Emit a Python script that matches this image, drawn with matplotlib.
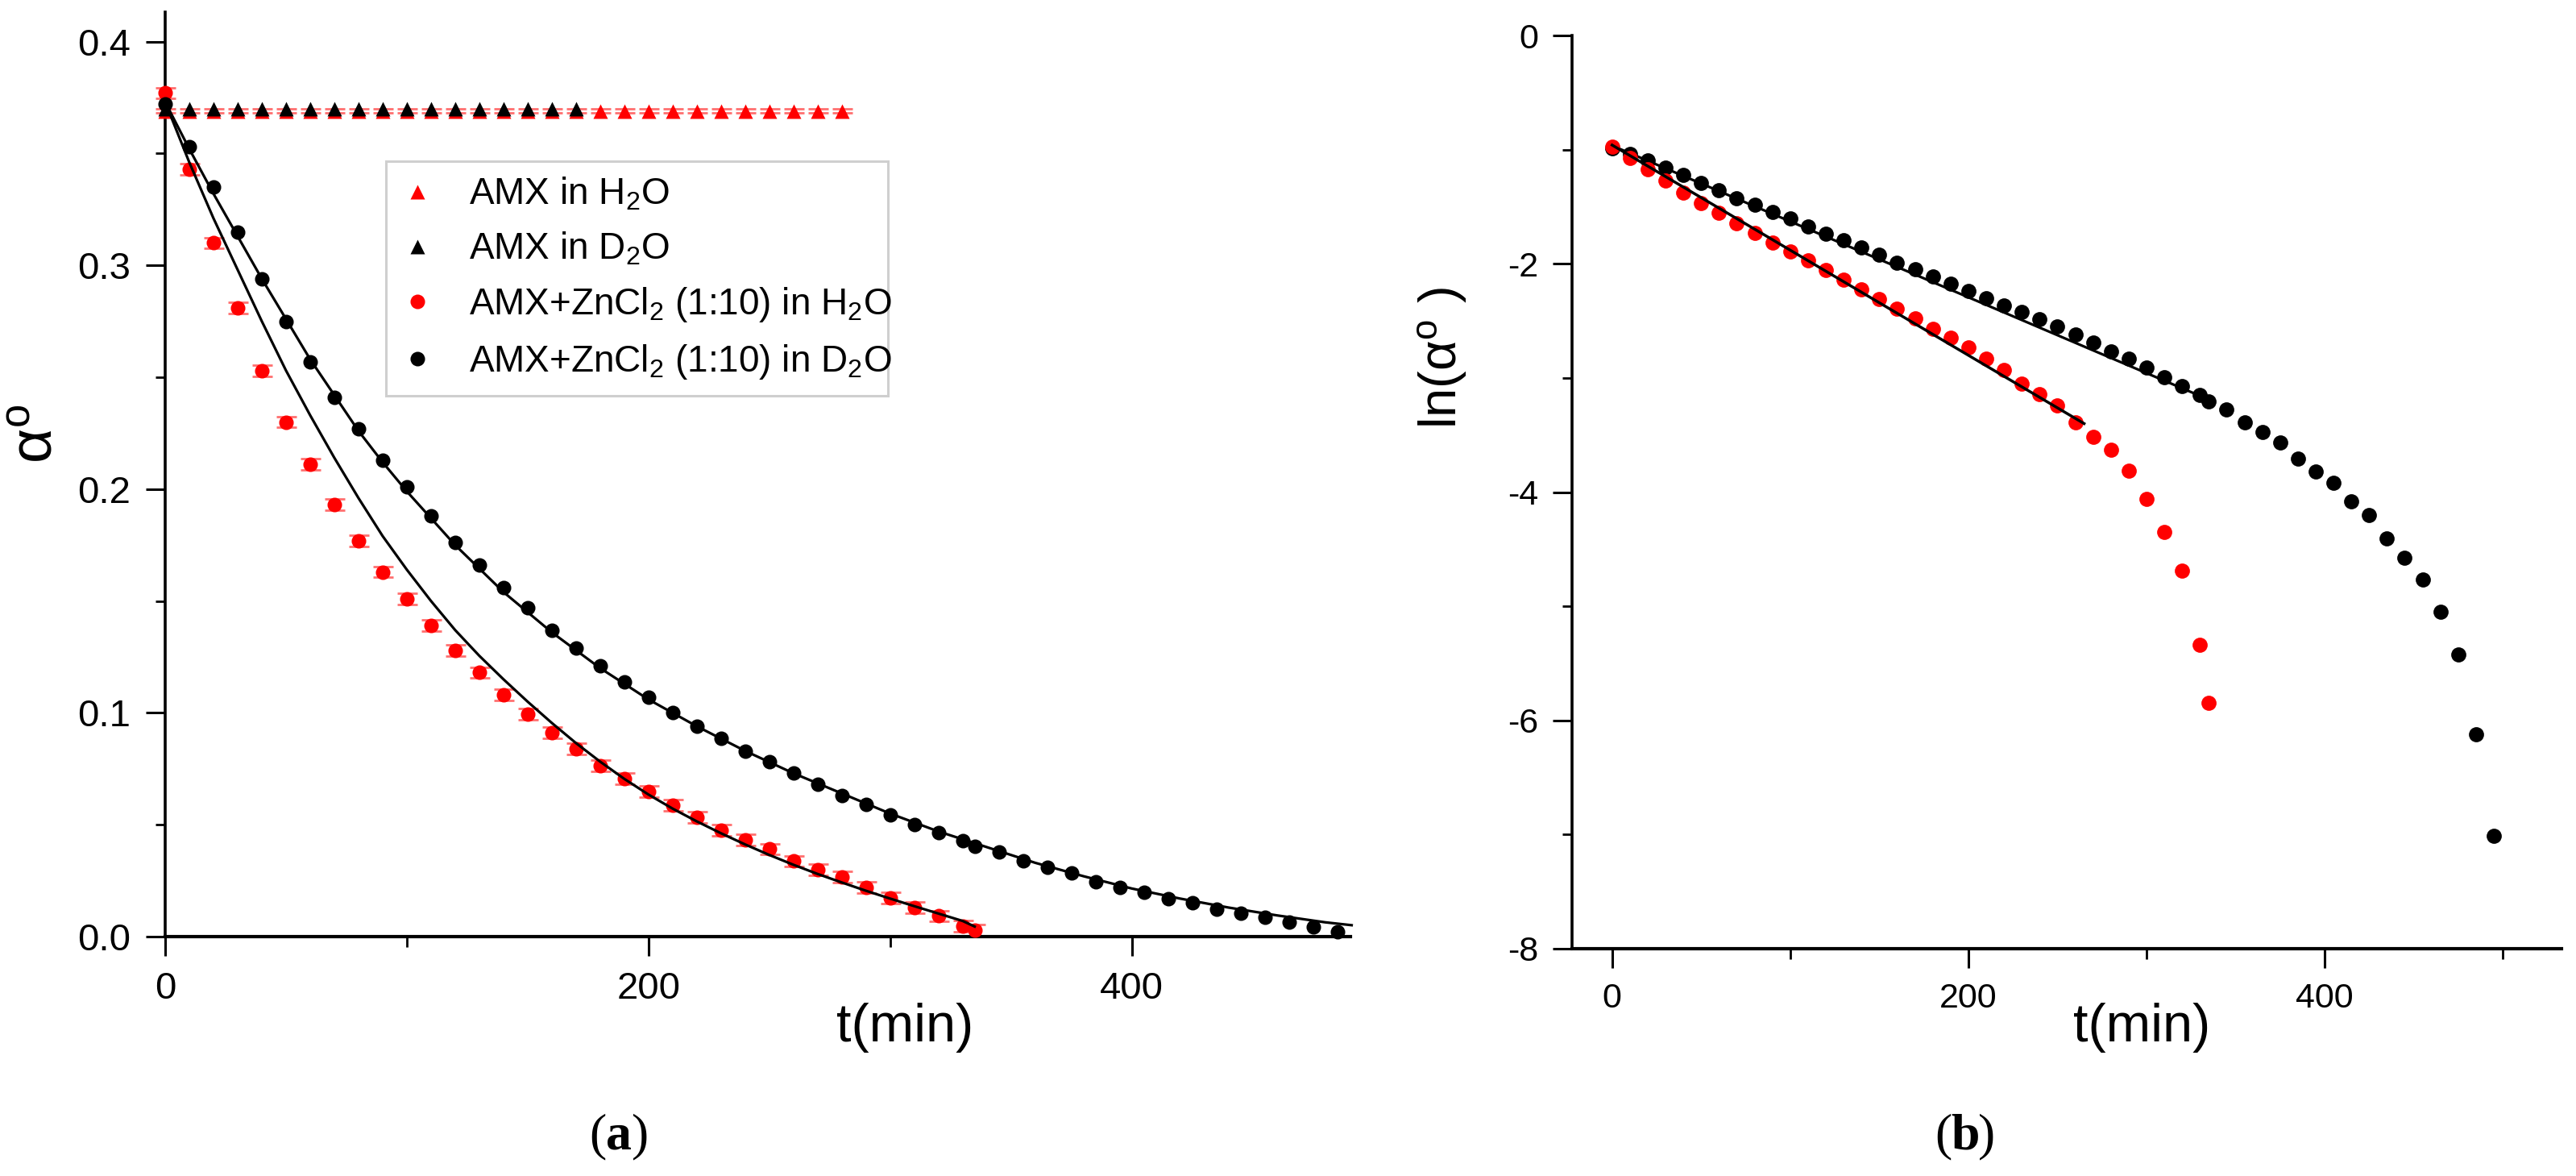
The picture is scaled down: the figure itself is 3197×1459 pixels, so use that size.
import numpy as np
import matplotlib
matplotlib.use("Agg")
import matplotlib.pyplot as plt
from matplotlib.lines import Line2D

plt.rcParams['font.family'] = ['Liberation Sans', 'DejaVu Sans']
plt.rcParams['mathtext.fontset'] = 'custom'
plt.rcParams['mathtext.rm'] = 'Liberation Sans'
plt.rcParams['mathtext.it'] = 'Liberation Sans:italic'
plt.rcParams['mathtext.bf'] = 'Liberation Sans:bold'
plt.rcParams['axes.unicode_minus'] = False

# ---------------- data ----------------
# AMX in H2O (red triangles) and AMX in D2O (black triangles)
t_amx_h2o = [0, 10, 20, 30, 40, 50, 60, 70, 80, 90, 100, 110, 120, 130, 140,
             150, 160, 170, 180, 190, 200, 210, 220, 230, 240, 250, 260, 270, 280]
a_amx_h2o = [0.369, 0.369, 0.369, 0.369, 0.369, 0.369, 0.369, 0.369, 0.369, 0.369,
             0.369, 0.369, 0.369, 0.369, 0.369, 0.369, 0.369, 0.369, 0.369, 0.369,
             0.369, 0.369, 0.369, 0.369, 0.369, 0.369, 0.369, 0.369, 0.369]
t_amx_d2o = [0, 10, 20, 30, 40, 50, 60, 70, 80, 90, 100, 110, 120, 130, 140, 150, 160, 170]
a_amx_d2o = [0.370, 0.370, 0.370, 0.370, 0.370, 0.370, 0.370, 0.370, 0.370,
             0.370, 0.370, 0.370, 0.370, 0.370, 0.370, 0.370, 0.370, 0.370]

# AMX + ZnCl2 (1:10) in H2O (red circles)
t_zn_h2o = [0, 10, 20, 30, 40, 50, 60, 70, 80, 90, 100, 110, 120, 130, 140, 150, 160,
            170, 180, 190, 200, 210, 220, 230, 240, 250, 260, 270, 280, 290, 300, 310,
            320, 330, 335]
a_zn_h2o = [0.377, 0.343, 0.310, 0.281, 0.253, 0.230, 0.211, 0.193, 0.177, 0.163,
            0.151, 0.139, 0.128, 0.118, 0.108, 0.0995, 0.0912, 0.0838, 0.0765, 0.0706,
            0.0649, 0.0588, 0.0532, 0.0474, 0.0431, 0.0391, 0.0337, 0.0298, 0.0265,
            0.0221, 0.0173, 0.0129, 0.0092, 0.0048, 0.0029]

# AMX + ZnCl2 (1:10) in D2O (black circles)
t_zn_d2o = [0, 10, 20, 30, 40, 50, 60, 70, 80, 90, 100, 110, 120, 130, 140, 150, 160,
            170, 180, 190, 200, 210, 220, 230, 240, 250, 260, 270, 280, 290, 300, 310,
            320, 330, 335, 345, 355, 365, 375, 385, 395, 405, 415, 425, 435, 445, 455,
            465, 475, 485, 495]
a_zn_d2o = [0.372, 0.353, 0.335, 0.315, 0.294, 0.275, 0.257, 0.241, 0.227, 0.213,
            0.201, 0.188, 0.176, 0.166, 0.156, 0.147, 0.137, 0.129, 0.121, 0.114,
            0.107, 0.100, 0.094, 0.0885, 0.083, 0.078, 0.073, 0.068, 0.063, 0.059,
            0.0545, 0.050, 0.0465, 0.043, 0.0405, 0.0379, 0.0338, 0.0310, 0.0283,
            0.0246, 0.0219, 0.0198, 0.0169, 0.0150, 0.0122, 0.0103, 0.0085, 0.0064,
            0.0044, 0.0022, 0.0009]

# error bars (read size)
err_amx_h2o = 0.0009
err_zn_h2o = 0.0025

# fitted curves in panel (a)
t_fit_h2o = [0, 10, 20, 30, 40, 50, 60, 70, 80, 90, 100, 110, 120, 130, 140, 150, 160,
             170, 180, 190, 200, 210, 220, 230, 240, 250, 260, 270, 280, 290, 300, 310,
             320, 330, 335]
a_fit_h2o = [0.373, 0.346, 0.321, 0.298, 0.275, 0.253, 0.233, 0.214, 0.196, 0.179,
             0.164, 0.150, 0.137, 0.1255, 0.115, 0.105, 0.0955, 0.0865, 0.0782, 0.0705,
             0.0635, 0.0572, 0.0515, 0.0462, 0.0412, 0.0365, 0.0321, 0.0280, 0.0242,
             0.0205, 0.0170, 0.0136, 0.0103, 0.0070, 0.0045]
t_fit_d2o = [0, 10, 20, 30, 40, 50, 60, 70, 80, 90, 100, 120, 140, 160, 180, 200, 220,
             240, 260, 280, 300, 320, 340, 360, 380, 400, 420, 440, 460, 480, 491]
a_fit_d2o = [0.373, 0.352, 0.332, 0.313, 0.294, 0.276, 0.258, 0.242, 0.226, 0.212,
             0.199, 0.175, 0.154, 0.136, 0.120, 0.106, 0.094, 0.083, 0.073, 0.064,
             0.055, 0.047, 0.040, 0.033, 0.027, 0.0215, 0.0170, 0.0130, 0.0095,
             0.0064, 0.0051]

# linear fits in panel (b)
t_lin_h2o = [0, 265]
y_lin_h2o = [-0.96, -3.40]
t_lin_d2o = [0, 335]
y_lin_d2o = [-0.965, -3.19]

# ---------------- figure ----------------
W, H = 3197, 1459
fig = plt.figure(figsize=(W / 100, H / 100), dpi=100)

def frac(l, t, r, b):
    return [l / W, 1 - b / H, (r - l) / W, (b - t) / H]

ax1 = fig.add_axes(frac(205, 15, 1676, 1162))
ax2 = fig.add_axes(frac(1951, 44, 3179, 1177))

RED = '#ff0000'
ERRC = '#ff7070'
MS_A = 13
MS_T = 13.5
MS_B = 13.5

# ---- panel (a)
ax1.errorbar(t_amx_h2o, a_amx_h2o, yerr=err_amx_h2o, fmt='none', ecolor=ERRC,
             elinewidth=1.2, capsize=9, capthick=2.0, zorder=2, clip_on=False)
ax1.plot(t_amx_h2o, a_amx_h2o, ls='none', marker='^', ms=MS_T, color=RED, mec='none',
         zorder=3, clip_on=False)
ax1.plot(t_amx_d2o, a_amx_d2o, ls='none', marker='^', ms=MS_T, color='black', mec='none',
         zorder=4, clip_on=False)
ax1.errorbar(t_zn_h2o, a_zn_h2o, yerr=err_zn_h2o, fmt='none', ecolor=ERRC,
             elinewidth=1.2, capsize=9, capthick=2.0, zorder=2, clip_on=False)
ax1.plot(t_zn_h2o, a_zn_h2o, ls='none', marker='o', ms=MS_A, color=RED, mec='none',
         zorder=5, clip_on=False)
xmax_a = 490.5
td = np.array(t_zn_d2o)
ad = np.array(a_zn_d2o)
keep = td <= xmax_a
ax1.plot(td[keep], ad[keep], ls='none', marker='o', ms=MS_A, color='black', mec='none',
         zorder=5, clip_on=False)
ax1.plot(t_fit_h2o, a_fit_h2o, '-', color='black', lw=2.3, zorder=7, clip_on=False)
ax1.plot(t_fit_d2o, a_fit_d2o, '-', color='black', lw=2.3, zorder=7, clip_on=False)

ax1.set_xlim(0, xmax_a)
ax1.set_ylim(0, 0.4132)
ax1.set_xticks([0, 200, 400])
ax1.set_xticklabels(['0', '200', '400'])
ax1.set_xticks([100, 300], minor=True)
ax1.set_yticks([0.0, 0.1, 0.2, 0.3, 0.4])
ax1.set_yticklabels(['0.0', '0.1', '0.2', '0.3', '0.4'])
ax1.set_yticks([0.05, 0.15, 0.25, 0.35], minor=True)

# ---- panel (b)
ax2.plot(t_zn_d2o, np.log(a_zn_d2o), ls='none', marker='o', ms=MS_B, color='black',
         mec='none', zorder=4, clip_on=False)
ax2.plot(t_zn_h2o, np.log(a_zn_h2o), ls='none', marker='o', ms=MS_B, color=RED,
         mec='none', zorder=5, clip_on=False)
ax2.plot(t_lin_d2o, y_lin_d2o, '-', color='black', lw=2.3, zorder=3)
ax2.plot(t_lin_h2o, y_lin_h2o, '-', color='black', lw=2.5, zorder=6)

ax2.set_xlim(-22.5, 533)
ax2.set_ylim(-8, 0)
ax2.set_xticks([0, 200, 400])
ax2.set_xticklabels(['0', '200', '400'])
ax2.set_xticks([100, 300, 500], minor=True)
ax2.set_yticks([0, -2, -4, -6, -8])
ax2.set_yticklabels(['0', '-2', '-4', '-6', '-8'])
ax2.set_yticks([-1, -3, -5, -7], minor=True)

for ax, lab_size, pad in ((ax1, 34, 14), (ax2, 31, 13)):
    for s in ('top', 'right'):
        ax.spines[s].set_visible(False)
    ax.spines['left'].set_linewidth(2.6)
    ax.spines['bottom'].set_linewidth(3.0)
    ax.tick_params(which='major', direction='out', length=17, width=2.2,
                   labelsize=lab_size, pad=pad, color='black')
    ax.tick_params(which='minor', direction='out', length=9, width=2.0, color='black')

# ---- axis titles and panel labels
fig.text(1123 / W, 1 - 1275 / H, 't(min)', fontsize=48, ha='center', va='center')
fig.text(2658 / W, 1 - 1275 / H, 't(min)', fontsize=48, ha='center', va='center')
fig.text(46 / W, 1 - 538 / H, r'α$^{\mathrm{o}}$', fontsize=54, rotation=90,
         ha='center', va='center')
fig.text(1791 / W, 1 - 444 / H, r'ln(α$^{\mathrm{o}}$ )', fontsize=47, rotation=90,
         ha='center', va='center')

serif = ['Liberation Serif', 'DejaVu Serif']
for cx, letter in ((768, 'a'), (2439, 'b')):
    fig.text(cx / W, 1 - 1410 / H, letter, fontsize=46, family=serif,
             fontweight='bold', ha='center', va='center')
    fig.text((cx - 16) / W, 1 - 1410 / H, '(', fontsize=46, family=serif,
             ha='right', va='center')
    fig.text((cx + 16) / W, 1 - 1410 / H, ')', fontsize=46, family=serif,
             ha='left', va='center')

# ---- legend
handles = [
    Line2D([], [], ls='none', marker='^', ms=MS_T, color=RED, mec='none'),
    Line2D([], [], ls='none', marker='^', ms=MS_T, color='black', mec='none'),
    Line2D([], [], ls='none', marker='o', ms=MS_A, color=RED, mec='none'),
    Line2D([], [], ls='none', marker='o', ms=MS_A, color='black', mec='none'),
]
labels = [r'AMX in H$_2$O', r'AMX in D$_2$O',
          r'AMX+ZnCl$_2$ (1:10) in H$_2$O', r'AMX+ZnCl$_2$ (1:10) in D$_2$O']
lx0 = (479 - 205) / 1471
lx1 = (1102 - 205) / 1471
ly0 = (1162 - 469) / 1147
ly1 = (1162 - 200) / 1147
leg = ax1.legend(handles, labels, loc='upper left',
                 bbox_to_anchor=(lx0, ly0, lx1 - lx0, ly1 - ly0),
                 fontsize=33, frameon=True, fancybox=False, borderaxespad=0,
                 borderpad=0.4, handlelength=0.9, handletextpad=0.95,
                 labelspacing=0.49, mode='expand')
leg.get_frame().set_edgecolor('#c4c4c4')
leg.get_frame().set_linewidth(2.2)
leg.set_zorder(10)

fig.savefig('out.png', dpi=100, facecolor='white')
